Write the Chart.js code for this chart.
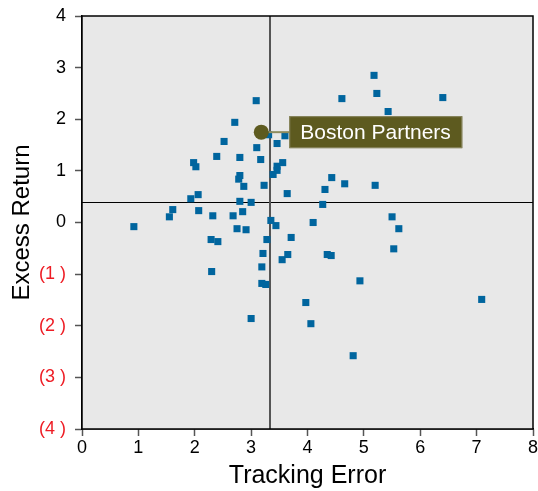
<!DOCTYPE html>
<html>
<head>
<meta charset="utf-8">
<script src="https://cdn.jsdelivr.net/npm/chart.js@4.4.0/dist/chart.umd.min.js"></script>
<style>
  body { margin: 0; background: #fff; }
  canvas { display: block; }
</style>
</head>
<body>
<canvas id="chart" width="538" height="491"></canvas>
<script>
// peer universe: tracking error (x) vs excess return (y)
const peerTE = [3.09, 2.71, 2.52, 3.10, 2.39, 2.80, 3.17, 1.98, 2.02, 3.31, 3.60, 3.46, 3.56, 3.46, 3.46, 3.39, 2.80, 2.78,
  2.87, 3.23, 3.64, 2.06, 1.93, 2.80, 3.00, 1.61, 2.07, 1.55, 2.32, 2.68, 2.85, 3.35, 0.92, 3.44, 2.75, 2.91, 3.71, 3.28,
  2.29, 2.41, 3.21, 3.65, 3.55, 3.19, 2.30, 3.19, 3.26, 3.00, 3.97, 4.06, 5.18, 5.23, 4.61, 6.40, 5.43, 4.43, 4.66, 5.20,
  4.31, 4.27, 5.50, 4.10, 5.62, 5.53, 4.35, 4.42, 4.93, 7.09, 4.81];
const peerER = [2.36, 1.94, 1.57, 1.45, 1.28, 1.26, 1.22, 1.16, 1.08, 1.70, 1.68, 1.53, 1.16, 1.09, 1.01, 0.93, 0.91, 0.84,
  0.70, 0.72, 0.56, 0.54, 0.46, 0.41, 0.39, 0.25, 0.23, 0.11, 0.13, 0.13, 0.21, 0.04, -0.08, -0.06, -0.12, -0.14, -0.29, -0.33,
  -0.33, -0.37, -0.60, -0.62, -0.72, -0.86, -0.95, -1.18, -1.20, -1.86, -1.55, -1.96, 2.85, 2.50, 2.40, 2.42, 2.15, 0.87, 0.75, 0.72,
  0.64, 0.35, 0.11, 0.00, -0.12, -0.51, -0.62, -0.64, -1.13, -1.49, -2.58];

const managerName = "Boston Partners";
const managerTE = [3.18];
const managerER = [1.75];

// median lines
const medianTE = 3.33;
const medianER = 0.40;

const xTicks = [0, 1, 2, 3, 4, 5, 6, 7, 8];
const yTicks = [4, 3, 2, 1, 0, -1, -2, -3, -4];

const peerPoints = peerTE.map((x, i) => ({ x: x, y: peerER[i] }));
const managerPoints = managerTE.map((x, i) => ({ x: x, y: managerER[i] }));

const OLIVE = "#5d5a1f";
const FONT = "'Liberation Sans', Arial, sans-serif";

const frame = {
  id: "frame",
  beforeDatasetsDraw(chart) {
    const { ctx, chartArea: a, scales: { x, y } } = chart;
    ctx.save();
    ctx.fillStyle = "#e8e8e8";
    ctx.fillRect(a.left, a.top, a.right - a.left, a.bottom - a.top);
    // horizontal median
    const yp = Math.round(y.getPixelForValue(medianER)) + 0.5;
    ctx.strokeStyle = "#000";
    ctx.lineWidth = 1;
    ctx.beginPath();
    ctx.moveTo(a.left, yp);
    ctx.lineTo(a.right, yp);
    ctx.stroke();
    // vertical median
    const xp = Math.round(x.getPixelForValue(medianTE));
    ctx.strokeStyle = "#555";
    ctx.lineWidth = 2;
    ctx.beginPath();
    ctx.moveTo(xp, a.top);
    ctx.lineTo(xp, a.bottom);
    ctx.stroke();
    ctx.restore();
  },
  afterDraw(chart) {
    const { ctx, chartArea: a, scales: { x, y } } = chart;
    ctx.save();
    ctx.strokeStyle = "#000";
    ctx.lineWidth = 1.5;
    ctx.strokeRect(a.left, a.top, a.right - a.left, a.bottom - a.top);

    // manager label
    const px = x.getPixelForValue(managerTE[0]);
    const py = y.getPixelForValue(managerER[0]);
    const bx = px + 28, bw = 173, bh = 32;
    ctx.strokeStyle = "#8f8c5e";
    ctx.lineWidth = 2;
    ctx.beginPath();
    ctx.moveTo(px + 7, py);
    ctx.lineTo(bx, py);
    ctx.stroke();
    ctx.fillStyle = OLIVE;
    ctx.fillRect(bx, py - bh / 2, bw, bh);
    ctx.strokeStyle = "#8a8760";
    ctx.lineWidth = 1;
    ctx.strokeRect(bx + 0.5, py - bh / 2 + 0.5, bw - 1, bh - 1);
    ctx.fillStyle = "#fff";
    ctx.font = "21px " + FONT;
    ctx.textBaseline = "middle";
    ctx.fillText(managerName, bx + 11, py + 1);

    // manager marker on top
    ctx.fillStyle = OLIVE;
    ctx.beginPath();
    ctx.arc(px, py, 7.5, 0, Math.PI * 2);
    ctx.fill();
    ctx.restore();
  }
};

new Chart(document.getElementById("chart"), {
  type: "scatter",
  data: {
    datasets: [
      {
        label: "Peers",
        data: peerPoints,
        pointStyle: "rect",
        pointRadius: 5,
        pointHoverRadius: 5,
        backgroundColor: "#00659e",
        borderWidth: 0
      },
      {
        label: managerName,
        data: managerPoints,
        pointRadius: 0,
        backgroundColor: OLIVE
      }
    ]
  },
  options: {
    responsive: false,
    animation: false,
    events: [],
    layout: { padding: { top: 16, right: 5, left: 0, bottom: 0 } },
    plugins: { legend: { display: false }, tooltip: { enabled: false } },
    scales: {
      x: {
        type: "linear",
        min: 0,
        max: 8,
        afterFit: s => { s.height = 62; s.paddingLeft = 0; s.paddingRight = 0; },
        afterBuildTicks: s => { s.ticks = xTicks.map(v => ({ value: v })); },
        grid: { drawOnChartArea: false, tickLength: 7, color: "#555", tickWidth: 1.5 },
        border: { color: "#000", width: 1.5 },
        ticks: {
          color: "#000",
          padding: 1,
          font: { family: FONT, size: 18 }
        },
        title: {
          display: true,
          text: "Tracking Error",
          color: "#000",
          padding: { top: 0, bottom: 0 },
          font: { family: FONT, size: 25 }
        }
      },
      y: {
        type: "linear",
        min: -4,
        max: 4,
        afterFit: s => { s.width = 82; s.paddingTop = 0; s.paddingBottom = 0; },
        afterBuildTicks: s => { s.ticks = yTicks.map(v => ({ value: v })); },
        grid: { drawOnChartArea: false, tickLength: 7, color: "#555", tickWidth: 1.5 },
        border: { color: "#000", width: 1.5 },
        ticks: {
          padding: 9,
          color: c => (c.tick && c.tick.value < 0 ? "#ee1c24" : "#000"),
          font: { family: FONT, size: 18 },
          callback: v => (v < 0 ? "(" + (-v) + " )" : String(v))
        },
        title: {
          display: true,
          text: "Excess Return",
          color: "#000",
          padding: { top: 8, bottom: 0 },
          font: { family: FONT, size: 24 }
        }
      }
    }
  },
  plugins: [frame]
});
</script>
</body>
</html>
